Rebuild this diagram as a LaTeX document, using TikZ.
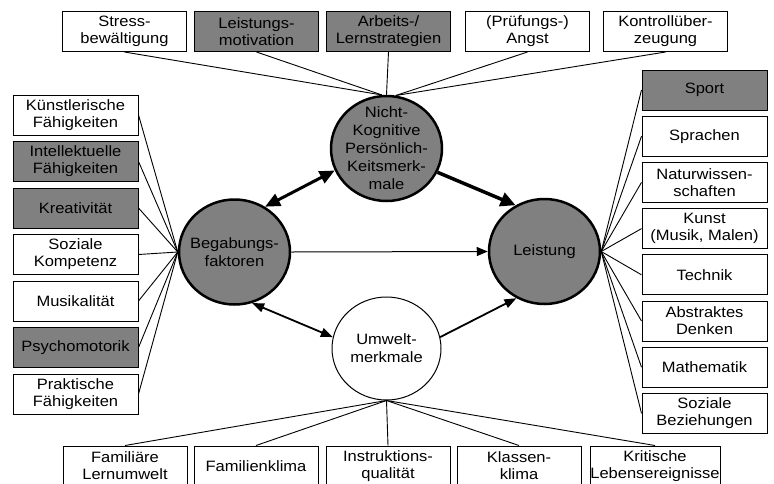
\documentclass[tikz,border=0pt]{standalone}
\usepackage{fontspec}
\setmainfont{Liberation Sans}[FakeStretch=1.1]
\usetikzlibrary{shapes.geometric, arrows.meta, positioning}

\newcommand{\boxfont}{\fontsize{15}{17}\selectfont}
\newcommand{\ringfont}{\fontsize{15}{18}\selectfont}

\begin{document}
\begin{tikzpicture}[
    x=1pt, y=-1pt,
    node distance=6pt,
    box/.style={rectangle, draw, line width=1pt, align=center, minimum width=124pt, minimum height=40pt, inner sep=0pt, font=\boxfont},
    dark/.style={fill=gray},
    ring/.style={ellipse, draw, align=center, minimum width=111pt, minimum height=105pt, inner sep=-10pt, font=\ringfont},
    link/.style={line width=0.9pt},
    bold/.style={line width=3pt, {Triangle[length=15pt,width=13pt]}-{Triangle[length=15pt,width=13pt]}},
    boldto/.style={line width=3.5pt, -{Triangle[length=15pt,width=14pt]}},
    mid/.style={line width=1.8pt, -{Triangle[length=12pt,width=9pt]}},
    midboth/.style={line width=1.8pt, {Triangle[length=12pt,width=9pt]}-{Triangle[length=12pt,width=9pt]}},
    thinto/.style={line width=1pt, -{Triangle[length=11pt,width=9pt]}}
]
\clip (0,0) rectangle (774,483);

% Circles
\node[ring, dark, line width=2.5pt] (nicht) at (386.5,148.5) {Nicht-\\Kognitive\\Persönlich-\\Keitsmerk-\\male};
\node[ring, dark, line width=2.5pt] (begab) at (234.5,252) {Begabungs-\\faktoren};
\node[ring, dark, line width=2.5pt] (leist) at (544.5,251.5) {Leistung};
\node[ring, fill=white, line width=1pt, minimum width=109pt, minimum height=103pt] (umwelt) at (386.5,348.5) {Umwelt-\\merkmale};

% Top row
\node[box] (stress) at (124.5,31.5) {Stress-\\bewältigung};
\node[box, dark, right=7pt of stress] (motiv) {Leistungs-\\motivation};
\node[box, dark, right=7pt of motiv] (lern) {Arbeits-/\\Lernstrategien};
\node[box, right=14pt of lern] (angst) {(Prüfungs-)\\Angst};
\node[box, right=13pt of angst] (kontroll) {Kontrollüber-\\zeugung};

% Left column
\node[box, minimum width=125pt] (kuenst) at (75.5,115) {Künstlerische\\Fähigkeiten};
\node[box, dark, minimum width=125pt, below=5.5pt of kuenst] (intell) {Intellektuelle\\Fähigkeiten};
\node[box, dark, minimum width=125pt, below=5.5pt of intell] (kreativ) {Kreativität};
\node[box, minimum width=125pt, below=5.5pt of kreativ] (sozkomp) {Soziale\\Kompetenz};
\node[box, minimum width=125pt, below=5.5pt of sozkomp] (musik) {Musikalität};
\node[box, dark, minimum width=125pt, below=5.5pt of musik] (psycho) {Psychomotorik};
\node[box, minimum width=125pt, below=5.5pt of psycho] (prakt) {Praktische\\Fähigkeiten};

% Right column
\node[box, dark, minimum width=125pt] (sport) at (704.5,90) {Sport};
\node[box, minimum width=125pt, below=5.2pt of sport] (sprach) {Sprachen};
\node[box, minimum width=125pt, below=5.2pt of sprach] (natur) {Naturwissen-\\schaften};
\node[box, minimum width=125pt, below=5.2pt of natur] (kunst) {Kunst\\(Musik, Malen)};
\node[box, minimum width=125pt, below=5.2pt of kunst] (technik) {Technik};
\node[box, minimum width=125pt, below=5.2pt of technik] (abstr) {Abstraktes\\Denken};
\node[box, minimum width=125pt, below=5.2pt of abstr] (mathe) {Mathematik};
\node[box, minimum width=125pt, below=5.2pt of mathe] (sozbez) {Soziale\\Beziehungen};

% Bottom row
\node[box] (famlern) at (125,466) {Familiäre\\Lernumwelt};
\node[box, right=6pt of famlern] (famklima) {Familienklima};
\node[box, right=7pt of famklima] (instr) {Instruktions-\\qualität};
\node[box, right=6pt of instr] (klasse) {Klassen-\\klima};
\node[box, minimum width=130pt, right=8pt of klasse] (krit) {Kritische\\Lebensereignisse};

% Links
\foreach \n in {stress, motiv}
    \draw[link] (\n.south) -- (nicht.95);
\draw[link] (lern.south) -- (nicht.north);
\foreach \n in {angst, kontroll}
    \draw[link] (\n.south) -- (nicht.80);
\foreach \n in {kuenst, intell, kreativ, sozkomp, musik, psycho, prakt}
    \draw[link] (\n.east) -- (begab.west);
\foreach \n in {sport, sprach, natur, kunst, technik, abstr, mathe, sozbez}
    \draw[link] (leist.east) -- (\n.west);
\foreach \n in {famlern, famklima, instr, klasse, krit}
    \draw[link] (umwelt.south) -- (\n.north);

% Arrows
\draw[bold] (begab.56) -- (nicht.203);
\draw[boldto] (nicht.335) -- (leist.122);
\draw[thinto] (begab.east) -- (leist.west);
\draw[midboth] (begab.289) -- (umwelt.168);
\draw[mid] (umwelt.12) -- (leist.239);

\end{tikzpicture}
\end{document}
